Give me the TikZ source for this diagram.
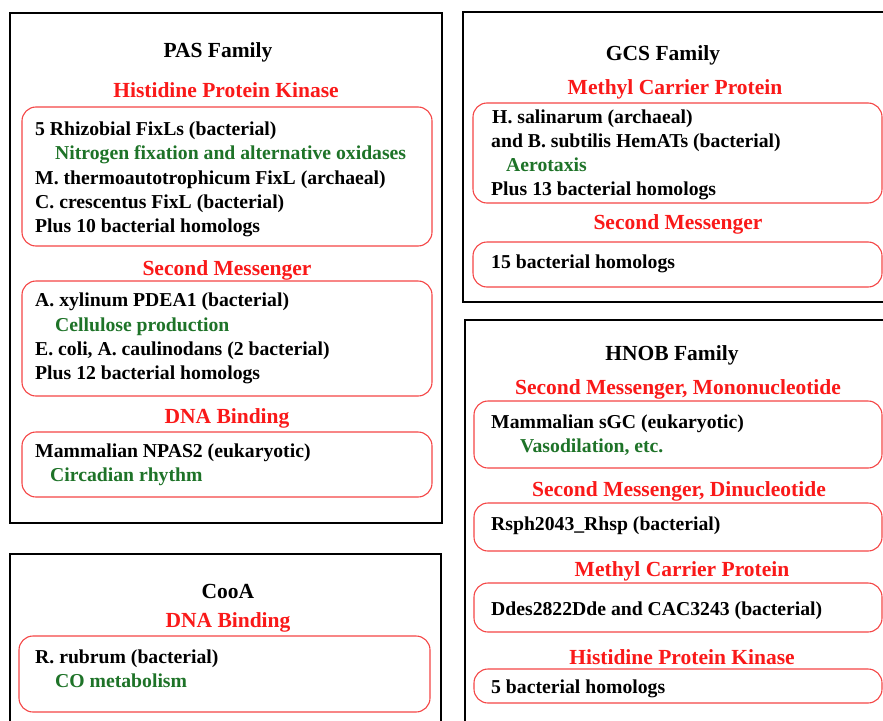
\documentclass[tikz,border=0pt]{standalone}
\usepackage{fontspec}
\setmainfont{Liberation Serif}
\usetikzlibrary{positioning}
\definecolor{hdred}{RGB}{250,25,25}
\definecolor{boxred}{RGB}{245,70,70}
\definecolor{fngreen}{RGB}{30,115,40}
\tikzset{
  family/.style={draw=black, line width=2.4pt},
  group/.style={draw=boxred, line width=1.1pt, rounded corners=14pt},
  famtitle/.style={font=\bfseries\fontsize{21.5}{24}\selectfont, text height=14pt, text depth=0pt, inner sep=0pt},
  hdr/.style={famtitle, text=hdred},
  entry/.style={anchor=west, font=\bfseries\fontsize{19.7}{24}\selectfont, text height=13pt, text depth=0pt, inner sep=0pt},
  role/.style={entry, text=fngreen},
}
\begin{document}
\begin{tikzpicture}[x=1pt, y=-1pt]
  \useasboundingbox (0,0) rectangle (883,720);
  \clip (0,0) rectangle (883,720);
  \fill[white] (0,0) rectangle (883,720);

  % PAS family
  \draw[family] (10,13) rectangle (442,523);
  \node[famtitle] (pas) at (218,50) {PAS Family};
  \node[hdr] (pashpk) at (226,90) {Histidine Protein Kinase};
  \draw[group] (22,107) rectangle (432,246);
  \node[entry] (pas1) at (35,129) {5 Rhizobial FixLs (bacterial)};
  \node[role] (pas2) at (55,153) {Nitrogen fixation and alternative oxidases};
  \node[entry] (pas3) at (35,178) {M. thermoautotrophicum FixL (archaeal)};
  \node[entry] (pas4) at (35,202) {C. crescentus FixL (bacterial)};
  \node[entry] (pas5) at (35,226) {Plus 10 bacterial homologs};
  \node[hdr] (passm) at (227,268) {Second Messenger};
  \draw[group] (22,281) rectangle (432,396);
  \node[entry] (pas6) at (35,300) {A. xylinum PDEA1 (bacterial)};
  \node[role] (pas7) at (55,325) {Cellulose production};
  \node[entry] (pas8) at (35,349) {E. coli, A. caulinodans (2 bacterial)};
  \node[entry] (pas9) at (35,373) {Plus 12 bacterial homologs};
  \node[hdr] (pasdna) at (227,416) {DNA Binding};
  \draw[group] (22,432) rectangle (432,497);
  \node[entry] (pas10) at (35,451) {Mammalian NPAS2 (eukaryotic)};
  \node[role] (pas11) at (50,475) {Circadian rhythm};

  % CooA
  \draw[family] (10,554) rectangle (441,740);
  \node[famtitle] (cooa) at (228,591) {CooA};
  \node[hdr] (cooadna) at (228,620) {DNA Binding};
  \draw[group] (19,636) rectangle (430,712);
  \node[entry] (cooa1) at (35,657) {R. rubrum (bacterial)};
  \node[role] (cooa2) at (55,681) {CO metabolism};

  % GCS family
  \draw[family] (463,12) rectangle (895,302);
  \node[famtitle] (gcs) at (663,53) {GCS Family};
  \node[hdr] (gcsmcp) at (675,87) {Methyl Carrier Protein};
  \draw[group] (473,103) rectangle (882,203);
  \node[entry] (gcs1) at (492,117) {H. salinarum (archaeal)};
  \node[entry] (gcs2) at (491,141) {and B. subtilis HemATs (bacterial)};
  \node[role] (gcs3) at (506,165) {Aerotaxis};
  \node[entry] (gcs4) at (491,189) {Plus 13 bacterial homologs};
  \node[hdr] (gcssm) at (678,222) {Second Messenger};
  \draw[group] (473,242) rectangle (882,287);
  \node[entry] (gcs5) at (491,262) {15 bacterial homologs};

  % HNOB family
  \draw[family] (465,320) rectangle (895,740);
  \node[famtitle] (hnob) at (672,353) {HNOB Family};
  \node[hdr] (hnobmono) at (678,387) {Second Messenger, Mononucleotide};
  \draw[group] (474,401) rectangle (882,468);
  \node[entry] (hnob1) at (491,422) {Mammalian sGC (eukaryotic)};
  \node[role] (hnob2) at (520,446) {Vasodilation, etc.};
  \node[hdr] (hnobdi) at (679,489) {Second Messenger, Dinucleotide};
  \draw[group] (474,503) rectangle (882,551);
  \node[entry] (hnob3) at (491,524) {Rsph2043\_Rhsp (bacterial)};
  \node[hdr] (hnobmcp) at (682,569) {Methyl Carrier Protein};
  \draw[group] (474,583) rectangle (882,632);
  \node[entry] (hnob4) at (491,609) {Ddes2822Dde and CAC3243 (bacterial)};
  \node[hdr] (hnobhpk) at (682,657) {Histidine Protein Kinase};
  \draw[group] (474,669) rectangle (882,703);
  \node[entry] (hnob5) at (491,687) {5 bacterial homologs};
\end{tikzpicture}
\end{document}
